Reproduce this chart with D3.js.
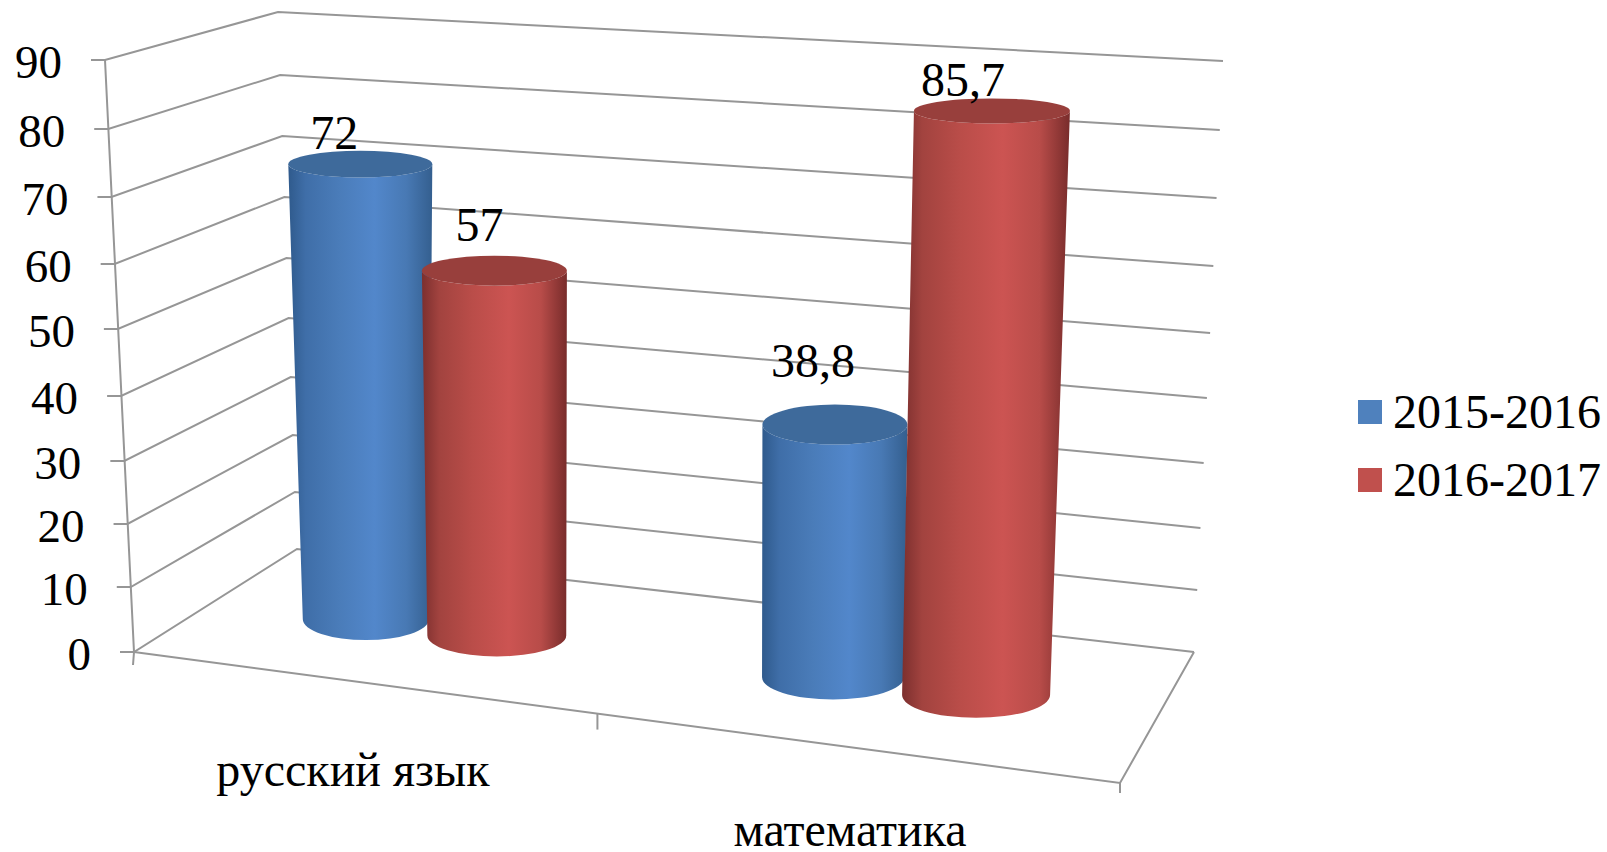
<!DOCTYPE html>
<html>
<head>
<meta charset="utf-8">
<script src="https://cdnjs.cloudflare.com/ajax/libs/d3/7.8.5/d3.min.js"></script>
<style>
  body { margin: 0; background: #fff; }
  text { font-family: "Liberation Serif", serif; font-size: 48px; fill: #000; }
</style>
</head>
<body>
<div id="chart"></div>
<script>
// values
var categories = ['русский язык', 'математика'];
var series = ['2015-2016', '2016-2017'];
var values2015 = [72, 38.8];
var values2016 = [57, 85.7];
var labels2015 = ['72', '38,8'];
var labels2016 = ['57', '85,7'];
var yTicks = [0, 10, 20, 30, 40, 50, 60, 70, 80, 90];

var colors = ['#4f81bd', '#c0504d'];
var width = 1607;
var height = 852;

var svg = d3.select('#chart').append('svg')
  .attr('width', width)
  .attr('height', height)
  .style('display', 'block');

// the three walls: a value goes to a point on each vertical edge
var frontX = d3.scaleLinear().domain([0, 90]).range([134, 105]);
var frontY = d3.scaleLinear().domain(yTicks).range([652, 587, 524, 461, 396, 329, 264, 197, 129, 60]);
var backX = d3.scaleLinear().domain([0, 90]).range([297, 278]);
var backY = d3.scaleLinear().domain(yTicks).range([549, 492, 435, 377, 318, 258, 197, 136, 75, 12]);
var rightX = d3.scaleLinear().domain([0, 90]).range([1194, 1223]);
var rightY = d3.scaleLinear().domain(yTicks).range([652, 590, 528, 463, 398, 333, 266, 198, 130, 61]);

// category position along the floor, with perspective squeeze
var xCat = d3.scaleBand().domain(categories).range([0, 1]);
var xSeries = d3.scaleBand().domain(series).range([0, xCat.bandwidth()])
  .paddingInner(0).paddingOuter(0.69).align(0.47);
var warp = d3.scaleLinear().domain([0, 0.5, 0.67, 0.818, 1]).range([0, 0.47, 0.656, 0.808, 1]);

var floorFront = d3.scaleLinear().domain([0, 1]).range([[134, 652], [1120, 783]]);
var floorBack = d3.scaleLinear().domain([0, 1]).range([[297, 549], [1194, 652]]);
function floorAt(u, w) {
  return d3.interpolateArray(floorFront(u), floorBack(u))(w);
}

// how a cylinder looks at a given place on the floor
var stops = [0.158, 0.3, 0.656, 0.808];
var unitAt = d3.scaleLinear().domain([0, 0.16, 0.3, 0.6, 1]).range([6.3, 6.32, 6.4, 6.4, 7.2]);
var driftAt = d3.scaleLinear().domain([0.15, 0.66, 0.81]).range([-0.08, 0.05, 0.187]);
var baseRx = d3.scaleLinear().domain(stops).range([63, 69.5, 71, 74]);
var topRx = d3.scaleLinear().domain(stops).range([72, 72.5, 72.5, 78]);
var ryAt = d3.scaleLinear().domain([110, 270, 420, 640, 700]).range([12.5, 15, 20, 21, 23]);

// gradients for the round sides
var defs = svg.append('defs');
var sideStops = [
  [['0%', '#2f5a8c'], ['12%', '#3f6ea8'], ['35%', '#4a7cb9'], ['60%', '#5287cb'], ['82%', '#4879b4'], ['100%', '#345f8f']],
  [['0%', '#7c2f2e'], ['12%', '#a2433f'], ['35%', '#ba4d49'], ['60%', '#cc5452'], ['82%', '#b84c49'], ['100%', '#782c2b']]
];
sideStops.forEach(function(s, i) {
  var g = defs.append('linearGradient').attr('id', 'side' + i);
  s.forEach(function(d) {
    g.append('stop').attr('offset', d[0]).attr('stop-color', d[1]);
  });
});
var capColors = ['#3e6a9b', '#983f3c'];

// gridlines
var gridLine = d3.line();
var grid = svg.append('g').attr('fill', 'none').attr('stroke', '#969696').attr('stroke-width', 2);
yTicks.forEach(function(t) {
  grid.append('path').attr('d', gridLine([
    [frontX(t) - 14, frontY(t)],
    [frontX(t), frontY(t)],
    [backX(t), backY(t)],
    [rightX(t), rightY(t)]
  ]));
});
grid.append('path').attr('d', gridLine([[frontX(90), frontY(90)], [frontX(0), frontY(0)], [frontX(0) - 1, frontY(0) + 13]]));
// the scale hands back one shared array, so copy the corners
grid.append('path').attr('d', gridLine([floorFront(0).slice(), floorFront(1).slice(), floorBack(1).slice()]));
[0.5, 1].forEach(function(u) {
  var p = floorFront(warp(u));
  grid.append('path').attr('d', gridLine([[p[0], p[1]], [p[0], p[1] + (u === 1 ? 10 : 16)]]));
});

// y axis labels
svg.append('g').selectAll('text').data(yTicks).enter().append('text')
  .attr('x', function(d) { return frontX(d) - 43; })
  .attr('y', function(d) { return frontY(d); })
  .attr('dy', '0.38em')
  .attr('text-anchor', 'end')
  .style('font-size', '47px')
  .text(function(d) { return d; });

// cylinders
var rows = [];
categories.forEach(function(c, i) {
  rows.push({ cat: c, s: 0, value: values2015[i], label: labels2015[i] });
  rows.push({ cat: c, s: 1, value: values2016[i], label: labels2016[i] });
});
var labelDx = [-26, -15, -22, -29];
var labelDy = [-2, -15, -28, -2];

var bars = svg.append('g').selectAll('g').data(rows).enter().append('g');
rows.forEach(function(d) {
  var u = warp(xCat(d.cat) + xSeries(series[d.s]) + xSeries.bandwidth() / 2);
  var p = floorAt(u, 0.5);
  var h = d3.scaleLinear().domain([0, 90]).range([0, 90 * unitAt(u)]);
  d.bx = p[0];
  d.by = p[1];
  d.tx = p[0] + driftAt(u) * d.value;
  d.ty = p[1] - h(d.value);
  d.brx = baseRx(u);
  d.trx = topRx(u);
  d.bry = ryAt(d.by);
  d.try_ = ryAt(d.ty);
});
bars.append('path')
  .attr('fill', function(d) { return 'url(#side' + d.s + ')'; })
  .attr('d', function(d) {
    return 'M' + (d.tx - d.trx) + ',' + d.ty +
      'L' + (d.bx - d.brx) + ',' + d.by +
      'A' + d.brx + ',' + d.bry + ' 0 0 0 ' + (d.bx + d.brx) + ',' + d.by +
      'L' + (d.tx + d.trx) + ',' + d.ty +
      'A' + d.trx + ',' + d.try_ + ' 0 0 1 ' + (d.tx - d.trx) + ',' + d.ty + 'Z';
  });
bars.append('ellipse')
  .attr('cx', function(d) { return d.tx; })
  .attr('cy', function(d) { return d.ty; })
  .attr('rx', function(d) { return d.trx; })
  .attr('ry', function(d) { return d.try_; })
  .attr('fill', function(d) { return capColors[d.s]; });

// value labels
svg.append('g').selectAll('text').data(rows).enter().append('text')
  .attr('x', function(d, i) { return d.tx + labelDx[i]; })
  .attr('y', function(d, i) { return d.ty - d.try_ + labelDy[i]; })
  .attr('text-anchor', 'middle')
  .text(function(d) { return d.label; });

// category labels
var catLabelX = d3.scalePoint().domain(categories).range([353, 850]);
var catLabelY = d3.scalePoint().domain(categories).range([786, 846]);
svg.append('g').selectAll('text').data(categories).enter().append('text')
  .attr('x', function(d) { return catLabelX(d); })
  .attr('y', function(d) { return catLabelY(d); })
  .attr('text-anchor', 'middle')
  .text(function(d) { return d; });

// legend
var legendY = d3.scalePoint().domain(series).range([400, 468]);
var legend = svg.append('g').selectAll('g').data(series).enter().append('g')
  .attr('transform', function(d) { return 'translate(1358,' + legendY(d) + ')'; });
legend.append('rect')
  .attr('width', 24).attr('height', 24)
  .attr('fill', function(d, i) { return colors[i]; });
legend.append('text')
  .attr('x', 35).attr('y', 28)
  .text(function(d) { return d; });
</script>
</body>
</html>
